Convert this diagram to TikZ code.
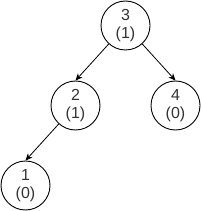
\documentclass[tikz,border=0pt]{standalone}
\usepackage{fontspec}
\setmainfont{Liberation Sans}
\usetikzlibrary{arrows.meta}
\definecolor{txt}{HTML}{333333}
\tikzset{
  treenode/.style={circle, draw=black, line width=0.9pt, minimum size=49pt, inner sep=0pt,
    align=center, text=txt, font=\fontsize{16pt}{18.5pt}\selectfont},
  edge/.style={line width=0.8pt, -{Stealth[length=7pt,width=6pt,inset=2pt]}}
}
\begin{document}
\begin{tikzpicture}[x=1pt,y=-1pt]
\useasboundingbox (0,0) rectangle (201,211);
\node[treenode] (n3) at (125.5,25.5) {3\\(1)};
\node[treenode] (n2) at (75.5,105.5) {2\\(1)};
\node[treenode] (n4) at (175.5,105.5) {4\\(0)};
\node[treenode] (n1) at (25.5,185.5) {1\\(0)};
\draw[edge] (n3) -- (n2.north);
\draw[edge] (n3) -- (n4.north);
\draw[edge] (n2) -- (n1.north);
\end{tikzpicture}
\end{document}
